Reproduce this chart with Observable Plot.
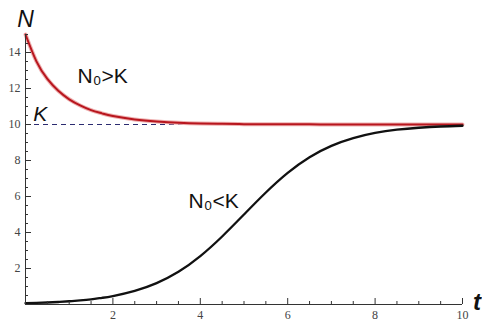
<!DOCTYPE html>
<html><head><meta charset="utf-8">
<script src="https://cdn.jsdelivr.net/npm/d3@7"></script>
<script src="https://cdn.jsdelivr.net/npm/@observablehq/plot@0.6"></script>
<style>
body{margin:0;background:#fff} svg{display:block}
</style>
</head><body><div id="chart"></div>
<script>
// time samples
const tValues = [0,0.25,0.5,0.75,1,1.25,1.5,1.75,2,2.5,3,3.5,4,4.5,5,5.5,6,6.5,7,7.5,8,8.5,9,9.5,10];
// N0 > K curve (red)
const redN = [15,13.51,12.53,11.87,11.40,11.06,10.80,10.62,10.47,10.28,10.17,10.10,10.06,10.04,10.02,10.01,10.01,10.01,10.00,10.00,10.00,10.00,10.00,10.00,10.00];
// N0 < K curve (black)
const blackN = [0.07,0.09,0.11,0.14,0.18,0.23,0.29,0.37,0.47,0.76,1.19,1.82,2.69,3.78,5.00,6.22,7.31,8.18,8.81,9.24,9.53,9.71,9.82,9.89,9.93];
const K = 10;
const xTickLabels = [2,4,6,8,10];
const yTickLabels = [2,4,6,8,10,12,14];
const xMinorTicks = [0.5,1,1.5,2.5,3,3.5,4.5,5,5.5,6.5,7,7.5,8.5,9,9.5];
const yMinorTicks = [0.5,1,1.5,2.5,3,3.5,4.5,5,5.5,6.5,7,7.5,8.5,9,9.5,10.5,11,11.5,12.5,13,13.5,14.5,15];
const labelTexts = ["N₀>K","N₀<K","K","N","t"];

const red = tValues.map((t,i)=>({t, N: redN[i]}));
const black = tValues.map((t,i)=>({t, N: blackN[i]}));

const sans = "Liberation Sans, Arial, sans-serif";
const tickFont = {fontSize: 12, fill: "#444"};

const plot = Plot.plot({
  width: 482, height: 322,
  marginLeft: 25, marginRight: 20, marginTop: 34, marginBottom: 18,
  x: {domain: [0, 10], label: null},
  y: {domain: [0, 15], label: null},
  style: {background: "white", overflow: "visible"},
  marks: [
    Plot.ruleY([K], {stroke: "#2b2b70", strokeDasharray: "5,4", strokeWidth: 1}),
    Plot.lineY(red, {x: "t", y: "N", stroke: "#eeb0b0", strokeWidth: 4, curve: "natural"}),
    Plot.lineY(red, {x: "t", y: "N", stroke: "#b8161e", strokeWidth: 2, curve: "natural"}),
    Plot.lineY(black, {x: "t", y: "N", stroke: "#111", strokeWidth: 2.3, curve: "natural"}),
    Plot.ruleY([0], {stroke: "#333", strokeWidth: 1}),
    Plot.ruleX([0], {stroke: "#333", strokeWidth: 1}),
    Plot.axisX({ticks: xMinorTicks, tickSize: -3, tickFormat: () => "", stroke: "#333", label: null}),
    Plot.axisX({ticks: xTickLabels, tickSize: -6, tickPadding: 12, stroke: "#333", ...tickFont, label: null}),
    Plot.axisY({ticks: yMinorTicks, tickSize: -3, tickFormat: () => "", stroke: "#333", label: null}),
    Plot.axisY({ticks: yTickLabels, tickSize: -6, tickPadding: 11, stroke: "#333", ...tickFont, label: null}),
    Plot.text([labelTexts[0]], {x: 1.19, y: 12.3, text: d => d, textAnchor: "start", lineAnchor: "bottom", fontSize: 21, fontFamily: sans, fill: "#111", letterSpacing: -0.5}),
    Plot.text([labelTexts[1]], {x: 3.73, y: 5.35, text: d => d, textAnchor: "start", lineAnchor: "bottom", fontSize: 21, fontFamily: sans, fill: "#111", letterSpacing: -0.5}),
    Plot.text([labelTexts[2]], {x: 0.18, y: 10.2, text: d => d, textAnchor: "start", lineAnchor: "bottom", fontSize: 21, fontFamily: sans, fontStyle: "italic", fill: "#111"}),
    Plot.text([labelTexts[3]], {x: 0, y: 15.4, text: d => d, textAnchor: "middle", lineAnchor: "bottom", fontSize: 23, fontFamily: sans, fontStyle: "italic", fill: "#111"}),
    Plot.text([labelTexts[4]], {x: 10.33, y: -0.3, text: d => d, textAnchor: "middle", lineAnchor: "bottom", fontSize: 24, fontFamily: sans, fontStyle: "italic", fontWeight: "bold", fill: "#111"})
  ]
});
d3.select(plot).selectAll("text").filter(function(){ return /^\d+$/.test(this.textContent.trim()); })
  .style("font-family", "'Liberation Serif', 'Times New Roman', serif")
  .style("font-size", "12px");
document.getElementById("chart").appendChild(plot);
</script>
</body></html>
